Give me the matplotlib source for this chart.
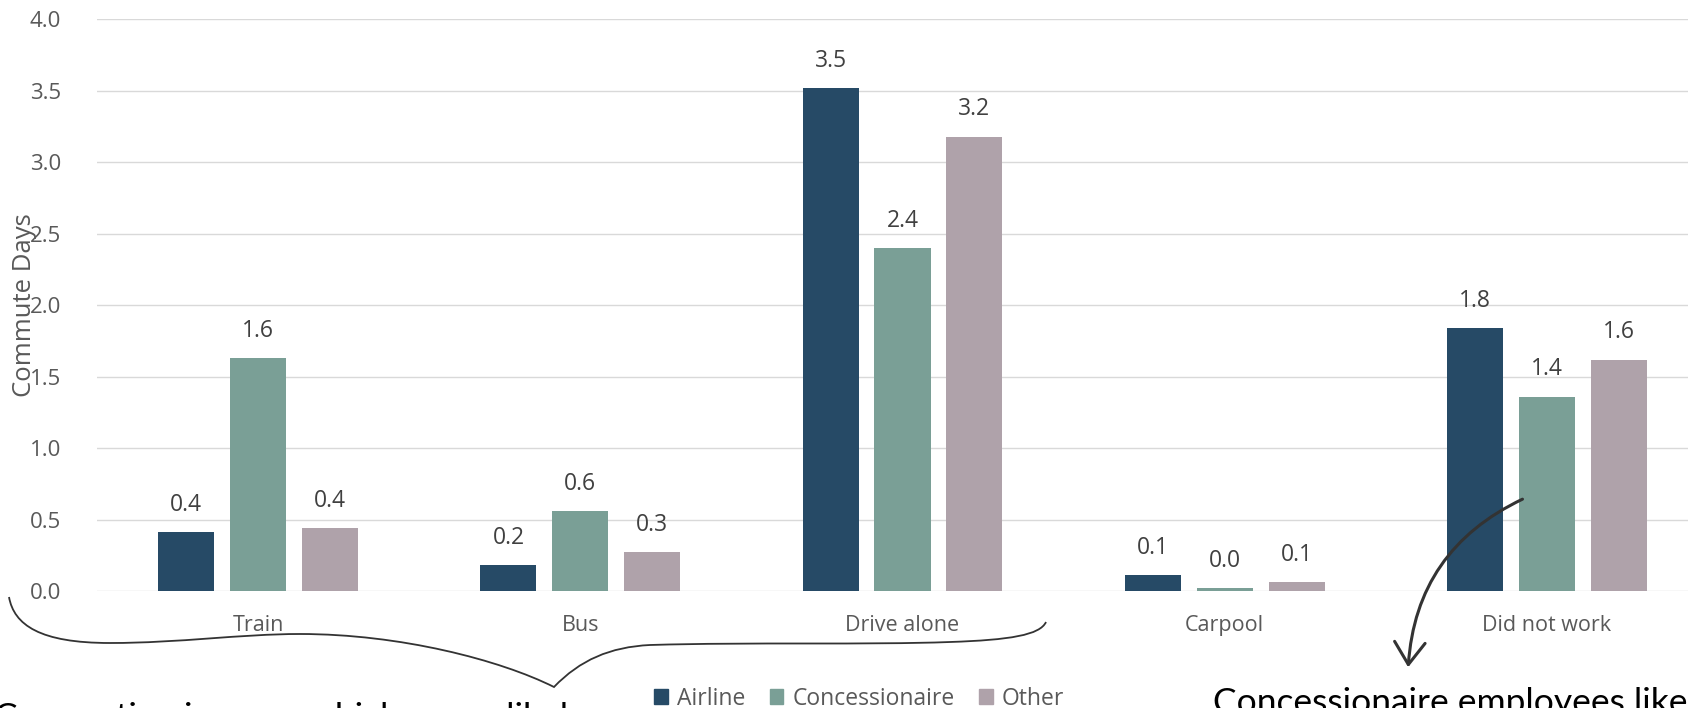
import numpy as np
import matplotlib
matplotlib.use("Agg")
import matplotlib.pyplot as plt
from matplotlib.path import Path
from matplotlib.patches import PathPatch, FancyArrowPatch, Patch

plt.rcParams["font.family"] = ["Open Sans", "DejaVu Sans"]

# average commute days per week by mode and employer type
MODES = ["Train", "Bus", "Drive alone", "Carpool", "Did not work"]
GROUPS = ["Airline", "Concessionaire", "Other"]
AIRLINE = [0.41, 0.18, 3.52, 0.11, 1.84]
CONCESSIONAIRE = [1.63, 0.56, 2.40, 0.02, 1.36]
OTHER = [0.44, 0.27, 3.18, 0.06, 1.62]
Y_TICKS = [0.0, 0.5, 1.0, 1.5, 2.0, 2.5, 3.0, 3.5, 4.0]

COLORS = ["#264a66", "#7a9f96", "#afa2aa"]
TEXT_GREY = "#595959"
W, H = 1688, 708


def fig_xy(x, y):
    """pixel position (origin top-left) -> figure fraction"""
    return (x / W, 1 - y / H)


def main():
    fig = plt.figure(figsize=(W / 100, H / 100), dpi=100)
    left, right = 97 / W, 1708 / W
    bottom, top = 1 - 591 / H, 1 - 19.4 / H
    ax = fig.add_axes([left, bottom, right - left, top - bottom])

    x = np.arange(len(MODES))
    width, step = 0.174, 0.223
    series = [AIRLINE, CONCESSIONAIRE, OTHER]
    for i, (name, vals, color) in enumerate(zip(GROUPS, series, COLORS)):
        bars = ax.bar(x + (i - 1) * step, vals, width, color=color, label=name, zorder=3)
        ax.bar_label(bars, labels=[f"{v:.1f}" for v in vals], padding=11,
                     fontsize=16.5, color="#404040")

    ax.set_xlim(-0.5, len(MODES) - 0.5)
    ax.set_ylim(0, 4)
    ax.set_yticks(Y_TICKS)
    ax.set_yticklabels([f"{t:.1f}" for t in Y_TICKS])
    ax.set_xticks(x)
    ax.set_xticklabels(MODES)
    ax.tick_params(axis="y", length=0, pad=26, labelsize=16, labelcolor=TEXT_GREY)
    ax.tick_params(axis="x", length=0, pad=17, labelsize=15.5, labelcolor=TEXT_GREY)
    ax.grid(axis="y", color="#d9d9d9", linewidth=1.0, zorder=0)
    for s in ax.spines.values():
        s.set_visible(False)
    ax.set_ylabel("Commute Days", fontsize=18.5, color=TEXT_GREY)
    ax.yaxis.set_label_coords(-0.037, 0.5)

    handles = [Patch(color=c) for c in COLORS]
    fig.legend(handles, GROUPS, loc="center", bbox_to_anchor=(0.509, 0.013),
               ncol=3, frameon=False, fontsize=16.5, labelcolor=TEXT_GREY,
               handlelength=0.6, handleheight=0.6, handletextpad=0.4,
               columnspacing=1.05, borderaxespad=0)

    # curly brace under the first three modes
    pts = [(9, 597),
           (14, 625), (40, 643), (110, 643),
           (180, 643), (240, 634), (300, 634),
           (400, 634), (500, 660), (554, 687),
           (580, 660), (610, 647), (650, 645),
           (750, 642), (870, 645), (950, 642),
           (1010, 640), (1040, 635), (1046, 622)]
    codes = [Path.MOVETO] + [Path.CURVE4] * (len(pts) - 1)
    brace = PathPatch(Path([fig_xy(*p) for p in pts], codes), transform=fig.transFigure,
                      facecolor="none", edgecolor="#333333", linewidth=1.3, clip_on=False)
    fig.patches.append(brace)

    # curved arrow from the concessionaire bar down to the note
    arrow = FancyArrowPatch(fig_xy(1525, 498), fig_xy(1408, 670), transform=fig.transFigure,
                            connectionstyle="arc3,rad=0.3",
                            arrowstyle="->,head_length=0.8,head_width=0.55",
                            mutation_scale=20, color="#333333", linewidth=2.2)
    fig.patches.append(arrow)

    fig.text(*fig_xy(-6, 728), "Commuting in own vehicle more likely",
             family=["Lato", "DejaVu Sans"], fontsize=25.5, color="black",
             ha="left", va="baseline")
    fig.text(*fig_xy(1213, 713), "Concessionaire employees likely did not work more often",
             family=["Lato", "DejaVu Sans"], fontsize=25.5, color="black",
             ha="left", va="baseline")

    fig.savefig("out.png", dpi=100)
    plt.close(fig)


if __name__ == "__main__":
    main()
